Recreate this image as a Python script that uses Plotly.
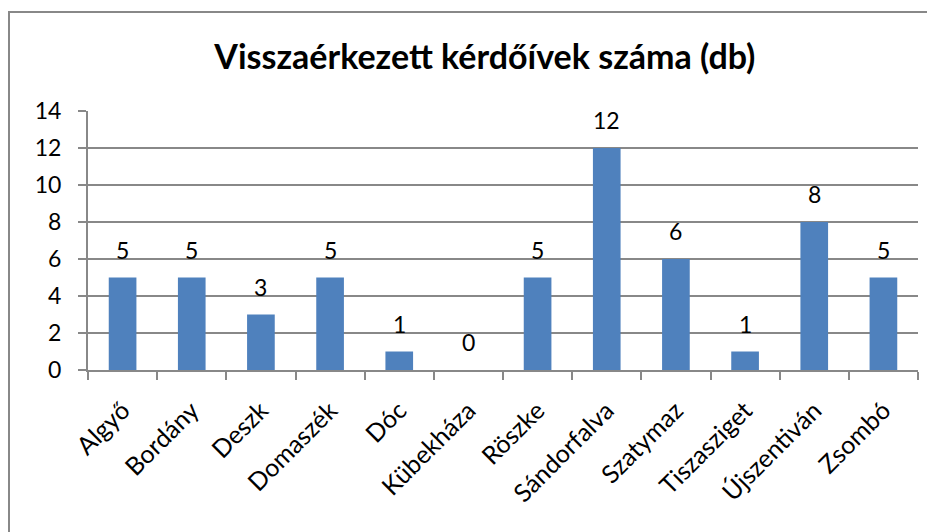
import plotly.graph_objects as go

telepulesek = ['Algyő', 'Bordány', 'Deszk', 'Domaszék', 'Dóc', 'Kübekháza',
               'Röszke', 'Sándorfalva', 'Szatymaz', 'Tiszasziget', 'Újszentiván', 'Zsombó']
kerdoivek = [5, 5, 3, 5, 1, 0, 5, 12, 6, 1, 8, 5]
y_ticks = [0, 2, 4, 6, 8, 10, 12, 14]

font_name = 'Lato, Open Sans, sans-serif'
grid_col = '#888888'

fig = go.Figure(go.Bar(
    x=telepulesek, y=kerdoivek,
    marker=dict(color='#4F81BD', line=dict(color='#4F81BD', width=0)),
    width=0.4,
    cliponaxis=False,
))

# adatfeliratok az oszlopok fölött
for nev, db in zip(telepulesek, kerdoivek):
    fig.add_annotation(x=nev, y=db, text=str(db), showarrow=False,
                       yanchor='bottom', yshift=12,
                       font=dict(size=23, color='black', family=font_name))

fig.update_layout(
    width=935, height=532,
    margin=dict(l=80, r=25, t=103, b=170),
    paper_bgcolor='white', plot_bgcolor='white',
    showlegend=False,
    font=dict(family=font_name, color='black'),
    title=dict(text='<b>Visszaérkezett kérdőívek száma (db)</b>',
               x=0.51, xanchor='center', y=0.908, yanchor='middle',
               font=dict(size=34, family=font_name, color='black')),
    bargap=0.6,
)

fig.update_xaxes(
    showline=True, linecolor=grid_col, linewidth=2,
    ticks='outside', tickson='boundaries', ticklen=8, tickcolor=grid_col, tickwidth=2,
    tickangle=-45, tickfont=dict(size=25), showgrid=False,
    ticklabelstandoff=14,
)
fig.update_yaxes(
    range=[0, 14], tickvals=y_ticks,
    showline=True, linecolor=grid_col, linewidth=2,
    ticks='outside', ticklen=8, tickcolor=grid_col, tickwidth=2,
    showgrid=True, gridcolor=grid_col, gridwidth=2,
    tickfont=dict(size=23), zeroline=False,
    ticklabelstandoff=12,
)

# keret a diagram körül (jobb és alsó oldala kilóg a képből)
fig.add_shape(type='rect', xref='paper', yref='paper',
              x0=-79 / 830, x1=(945 - 88) / 830,
              y0=(370 - 545) / 259, y1=(370 - 12) / 259,
              line=dict(color=grid_col, width=2), layer='below')

fig.write_html("out.html")
